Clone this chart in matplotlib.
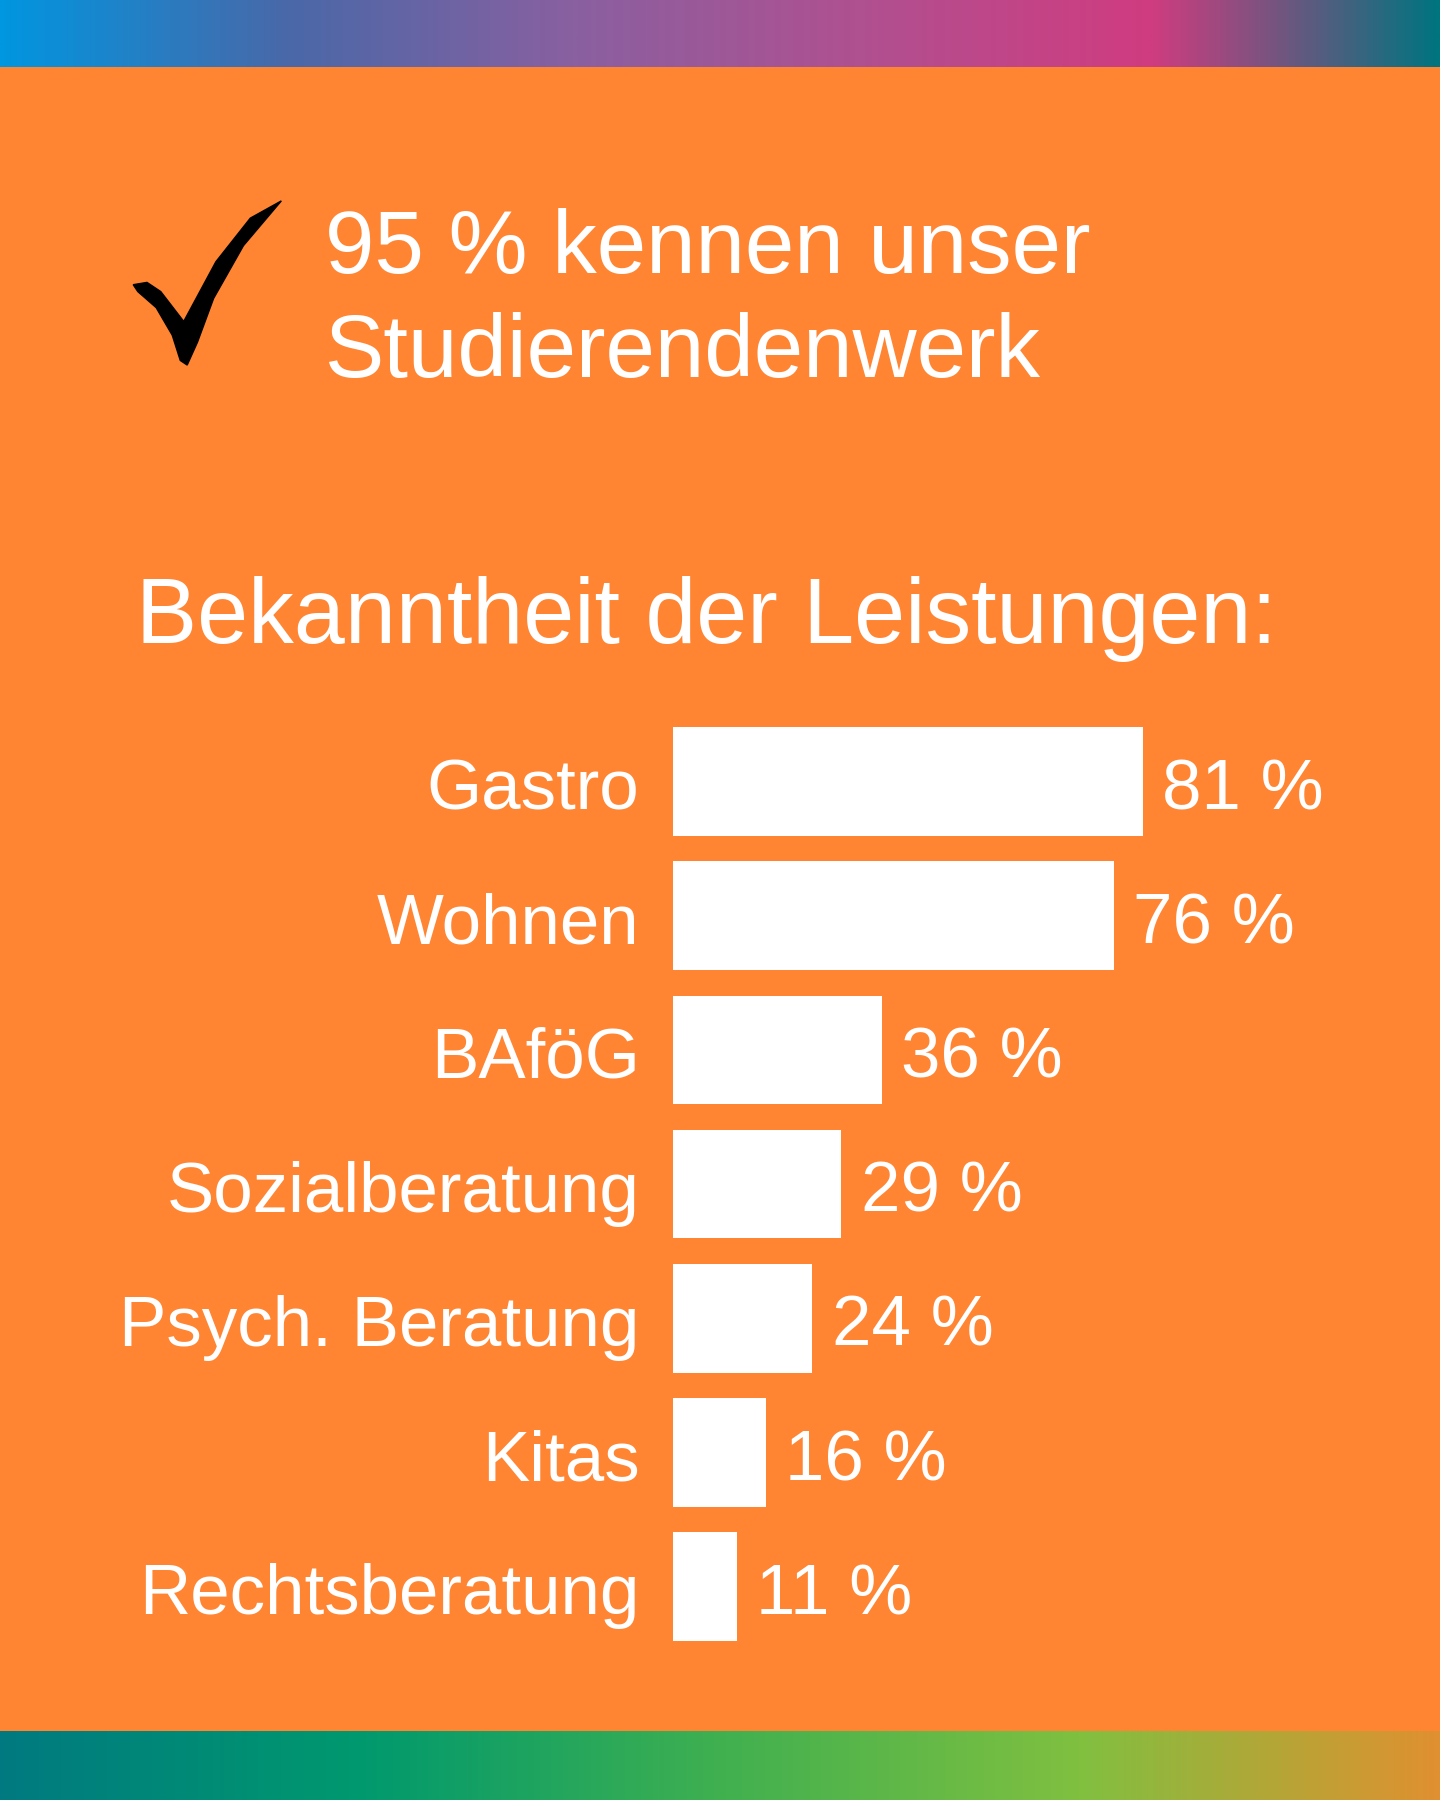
import matplotlib
matplotlib.use("Agg")
import matplotlib.pyplot as plt
import numpy as np
from matplotlib.colors import LinearSegmentedColormap
from matplotlib.patches import Polygon

categories = ["Gastro", "Wohnen", "BAföG", "Sozialberatung", "Psych. Beratung", "Kitas", "Rechtsberatung"]
values = [81, 76, 36, 29, 24, 16, 11]
title_lines = ["95 % kennen unser", "Studierendenwerk"]
subtitle = "Bekanntheit der Leistungen:"

W, H = 1254, 1568
ORANGE = "#FF8533"
plt.rcParams['font.family'] = ['Liberation Sans', 'DejaVu Sans']
fig = plt.figure(figsize=(14.4, 18), dpi=100, facecolor=ORANGE)

def fx(x): return x / W
def fy(y): return 1 - y / H

top_cmap = LinearSegmentedColormap.from_list("t", ["#0096E0", "#4A68A8", "#8A60A0", "#B05090", "#D03C80", "#00747F"])
bot_cmap = LinearSegmentedColormap.from_list("b", ["#007A80", "#00996E", "#40B050", "#80C040", "#E09030"])
grad = np.linspace(0, 1, 512).reshape(1, -1)
ax_t = fig.add_axes([0, fy(58), 1, 58 / H]); ax_t.imshow(grad, aspect="auto", cmap=top_cmap); ax_t.axis("off")
ax_b = fig.add_axes([0, 0, 1, 60 / H]); ax_b.imshow(grad, aspect="auto", cmap=bot_cmap); ax_b.axis("off")

# checkmark shape (decoration)
pts = [(116, 248), (128, 246), (140, 254), (160, 280), (188, 228), (218, 190), (245, 175),
       (212, 214), (186, 260), (172, 298), (163, 318), (157, 314), (150, 292), (136, 268), (120, 254)]
fig.patches.append(Polygon([(fx(a), fy(b)) for a, b in pts], closed=True, transform=fig.transFigure,
                           facecolor="black", edgecolor="black"))

fig.text(fx(283), fy(238), title_lines[0], fontsize=64, color="white", ha="left", va="baseline")
fig.text(fx(283), fy(328), title_lines[1], fontsize=64, color="white", ha="left", va="baseline")
fig.text(fx(118), fy(560), subtitle, fontsize=66, color="white", ha="left", va="baseline")

ax = fig.add_axes([fx(586), fy(1440.5), 505 / W, (1440.5 - 622.5) / H])
ax.set_facecolor("none")
y = np.arange(len(categories))
ax.barh(y, values, height=0.81, color="white", left=0)
ax.set_xlim(0, 100)
ax.set_ylim(len(categories) - 0.5, -0.5)
ax.axis("off")
for i, (c, v) in enumerate(zip(categories, values)):
    ax.annotate(c, (0, i), xytext=(-24, -7), textcoords="offset points", ha="right", va="center",
                fontsize=51, color="white")
    ax.annotate(f"{v} %", (v, i), xytext=(14, -7), textcoords="offset points", ha="left", va="center",
                fontsize=51, color="white")

fig.savefig("out.png", dpi=100, facecolor=ORANGE)
